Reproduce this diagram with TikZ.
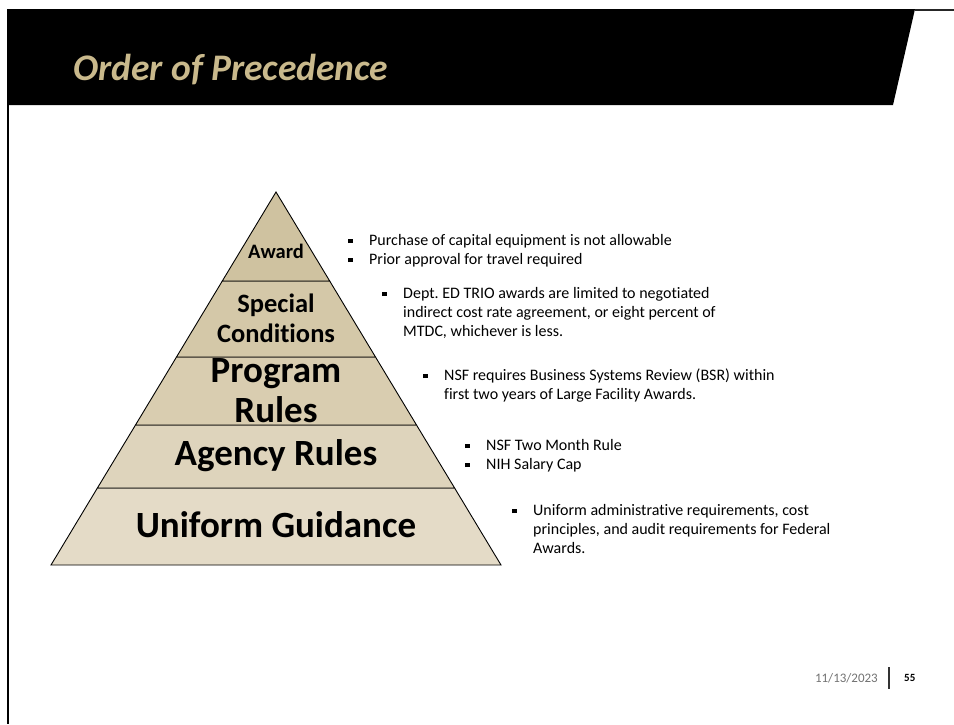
\documentclass[tikz,border=0pt]{standalone}
\usepackage{fontspec}
\setmainfont{Carlito}[Ligatures=CommonOff]
\frenchspacing

\definecolor{titletan}{RGB}{201,185,140}
\definecolor{tierA}{RGB}{207,194,160}
\definecolor{tierB}{RGB}{212,200,168}
\definecolor{tierC}{RGB}{217,205,176}
\definecolor{tierD}{RGB}{222,212,188}
\definecolor{tierE}{RGB}{228,219,199}

\newcommand{\sqb}{\makebox[21pt][l]{\rule[0.3ex]{4.5pt}{4.5pt}}}

\tikzset{
	tier/.style={draw=black, line width=0.9pt},
	lbl/.style={align=center, inner sep=0pt},
	note/.style={anchor=north west, inner sep=0pt, font=\fontsize{16}{19}\selectfont},
}

\begin{document}
\begin{tikzpicture}[x=1pt, y=-1pt]
	\useasboundingbox (0,0) rectangle (954,724);
	\fill[white] (0,0) rectangle (954,724);
	
	% header
	\fill[black] (7,9) -- (915,9) -- (893,105) -- (7,105) -- cycle;
	\draw[black!85, line width=1.5pt] (915,10) -- (954,10);
	\draw[black, line width=2pt] (8,105) -- (8,724);
	\node[anchor=west, inner sep=0pt, text=titletan, font=\fontsize{37.5}{42}\selectfont\bfseries\itshape] (title) at (73,70) {Order of Precedence};
	
	% pyramid
	\draw[tier, fill=tierE] (97.4,488) -- (454.6,488) -- (501,565) -- (51,565) -- cycle;
	\draw[tier, fill=tierD] (135.5,425) -- (416.5,425) -- (454.6,488) -- (97.4,488) -- cycle;
	\draw[tier, fill=tierC] (176.5,357) -- (375.5,357) -- (416.5,425) -- (135.5,425) -- cycle;
	\draw[tier, fill=tierB] (222.3,281) -- (329.7,281) -- (375.5,357) -- (176.5,357) -- cycle;
	\draw[tier, fill=tierA] (276,192) -- (329.7,281) -- (222.3,281) -- cycle;
	
	\node[lbl, font=\fontsize{20.5}{24}\selectfont\bfseries] (award) at (276,251) {Award};
	\node[lbl, font=\fontsize{26.5}{30}\selectfont\bfseries] (special) at (276,318) {Special\\Conditions};
	\node[lbl, font=\fontsize{37}{40}\selectfont\bfseries] (program) at (276,391) {Program\\Rules};
	\node[lbl, font=\fontsize{37}{42}\selectfont\bfseries] (agency) at (276,456) {Agency Rules};
	\node[lbl, font=\fontsize{37}{42}\selectfont\bfseries] (uniform) at (276,525) {Uniform Guidance};
	
	% notes
	\node[note] (awardnote) at (348,232) {\begin{tabular}{@{}l@{}l@{}}
		\sqb & Purchase of capital equipment is not allowable\\
		\sqb & Prior approval for travel required
	\end{tabular}};
	\node[note] (specialnote) at (382,285) {\begin{tabular}{@{}l@{}l@{}}
		\sqb & Dept. ED TRIO awards are limited to negotiated\\
		 & indirect cost rate agreement, or eight percent of\\
		 & MTDC, whichever is less.
	\end{tabular}};
	\node[note] (programnote) at (423,367) {\begin{tabular}{@{}l@{}l@{}}
		\sqb & NSF requires Business Systems Review (BSR) within\\
		 & first two years of Large Facility Awards.
	\end{tabular}};
	\node[note] (agencynote) at (465,437) {\begin{tabular}{@{}l@{}l@{}}
		\sqb & NSF Two Month Rule\\
		\sqb & NIH Salary Cap
	\end{tabular}};
	\node[note] (uniformnote) at (512,502) {\begin{tabular}{@{}l@{}l@{}}
		\sqb & Uniform administrative requirements, cost\\
		 & principles, and audit requirements for Federal\\
		 & Awards.
	\end{tabular}};
	
	% footer
	\node[anchor=east, inner sep=0pt, text=black!55, font=\fontsize{13}{15}\selectfont] (date) at (878,678) {11/13/2023};
	\draw[black!80, line width=2pt] (889,667) -- (889,689);
	\node[anchor=west, inner sep=0pt, font=\fontsize{11}{13}\selectfont\bfseries] (page) at (904,678) {55};
	
\end{tikzpicture}
\end{document}
